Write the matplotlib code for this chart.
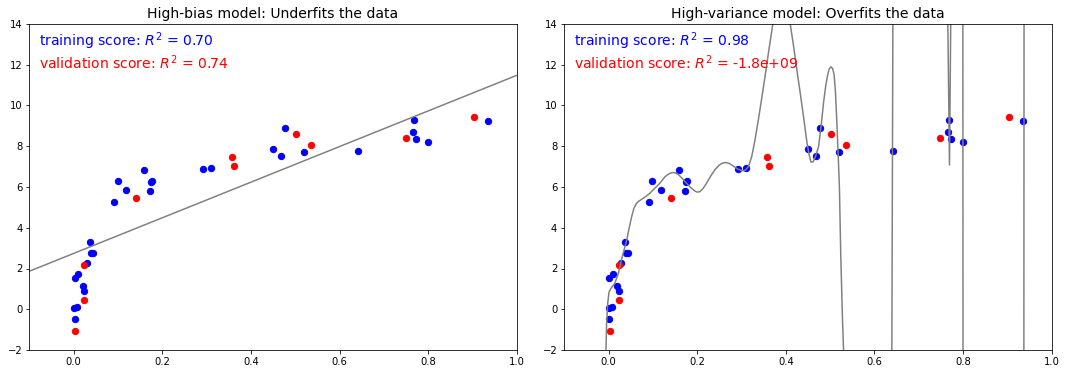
import numpy as np
import matplotlib
matplotlib.use("Agg")
import matplotlib.pyplot as plt

# Training data (blue)
train_x = [0.000, 0.007, 0.002, 0.002, 0.009, 0.020, 0.023, 0.029, 0.036, 0.040,
           0.043, 0.092, 0.099, 0.119, 0.158, 0.173, 0.175, 0.177, 0.291, 0.311,
           0.449, 0.469, 0.478, 0.519, 0.641, 0.769, 0.767, 0.772, 0.799, 0.936]
train_y = [0.05, 0.10, -0.49, 1.52, 1.71, 1.14, 0.88, 2.27, 3.28, 2.78,
           2.75, 5.25, 6.28, 5.84, 6.82, 5.79, 6.25, 6.30, 6.87, 6.92,
           7.85, 7.50, 8.88, 7.70, 7.75, 9.27, 8.68, 8.34, 8.19, 9.22]

# Validation data (red)
valid_x = [0.004, 0.024, 0.024, 0.140, 0.358, 0.361, 0.501, 0.535, 0.749, 0.903]
valid_y = [-1.08, 0.44, 2.17, 5.44, 7.46, 7.01, 8.58, 8.04, 8.39, 9.45]

# High-variance model curve
curve_x = [-0.100, -0.020, -0.007, -0.0045, -0.002, 0.001, 0.006, 0.014, 0.022, 0.029,
           0.036, 0.041, 0.046, 0.052, 0.057, 0.063, 0.068, 0.075, 0.085, 0.093,
           0.100, 0.112, 0.120, 0.127, 0.135, 0.142, 0.148, 0.157, 0.165, 0.176,
           0.185, 0.195, 0.200, 0.206, 0.213, 0.221, 0.230, 0.240, 0.250, 0.258,
           0.265, 0.272, 0.280, 0.290, 0.298, 0.305, 0.310, 0.316, 0.323, 0.330,
           0.338, 0.346, 0.353, 0.364, 0.375, 0.390, 0.405, 0.410, 0.418, 0.425,
           0.433, 0.440, 0.448, 0.453, 0.457, 0.462, 0.467, 0.474, 0.480, 0.485,
           0.490, 0.494, 0.498, 0.502, 0.506, 0.509, 0.512, 0.515, 0.518, 0.521,
           0.524, 0.528, 0.532, 0.550, 0.600, 0.6394, 0.6417, 0.660, 0.740, 0.7655,
           0.7695, 0.7725, 0.780, 0.790, 0.7997, 0.8000, 0.810, 0.920, 0.9374, 0.9378,
           0.960, 1.000]
curve_y = [-60.0, -60.0, -3.0, -0.70, 0.30, 0.85, 1.05, 1.27, 1.76, 2.42,
           3.00, 3.40, 3.95, 4.54, 4.95, 5.20, 5.30, 5.40, 5.55, 5.69,
           5.85, 6.10, 6.30, 6.50, 6.63, 6.70, 6.71, 6.62, 6.45, 6.18,
           5.98, 5.80, 5.75, 5.77, 5.92, 6.18, 6.52, 6.85, 7.08, 7.18,
           7.20, 7.16, 7.05, 6.90, 6.82, 6.80, 6.85, 7.02, 7.49, 8.25,
           9.29, 10.40, 11.41, 13.05, 14.60, 16.50, 15.00, 14.00, 12.85, 11.74,
           10.55, 9.45, 8.14, 7.55, 7.22, 7.24, 7.50, 7.98, 9.05, 10.10,
           10.95, 11.45, 11.80, 11.90, 11.80, 11.50, 10.70, 9.29, 7.70, 6.02,
           2.74, -0.53, -3.0, -60.0, -60.0, -2.0, 14.0, 60.0, 60.0, 14.5,
           7.08, 14.5, 60.0, 60.0, 14.0, -2.0, -60.0, -60.0, -2.0, 14.0,
           60.0, 60.0]

titles = ["High-bias model: Underfits the data", "High-variance model: Overfits the data"]
train_scores = ["0.70", "0.98"]
valid_scores = ["0.74", "-1.8e+09"]

W, H = 1066, 374
fig = plt.figure(figsize=(W / 72, H / 72), dpi=72)
axes = [fig.add_axes([29.4 / W, 24 / H, 487.3 / W, 326 / H]),
        fig.add_axes([564.3 / W, 24 / H, 487.3 / W, 326 / H])]

# Linear fit for the high-bias model
coef = np.polyfit(train_x, train_y, 1)
lin_x = np.array([-0.1, 1.0])
lin_y = np.polyval(coef, lin_x)

for i, ax in enumerate(axes):
    ax.scatter(train_x, train_y, s=40, c='blue')
    ax.scatter(valid_x, valid_y, s=40, c='red')
    if i == 0:
        ax.plot(lin_x, lin_y, color='gray')
    else:
        ax.plot(curve_x, curve_y, color='gray')
    ax.axis([-0.1, 1.0, -2, 14])
    ax.set_title(titles[i], size=14)
    ax.text(0.02, 0.98, "training score: $R^2$ = " + train_scores[i], ha='left', va='top',
            transform=ax.transAxes, size=14, color='blue')
    ax.text(0.02, 0.91, "validation score: $R^2$ = " + valid_scores[i], ha='left', va='top',
            transform=ax.transAxes, size=14, color='red')

fig.savefig("out.png", dpi=72)
